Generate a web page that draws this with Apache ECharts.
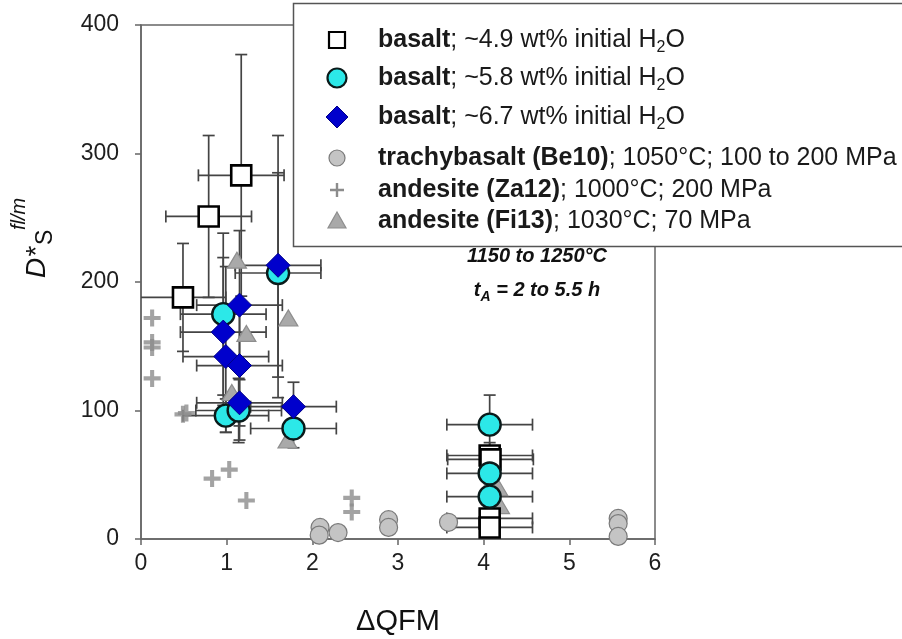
<!DOCTYPE html>
<html>
<head>
<meta charset="utf-8">
<script src="https://cdn.jsdelivr.net/npm/echarts@6/dist/echarts.min.js"></script>
<style>
  html, body { margin: 0; padding: 0; background: #fff; }
  #chart { width: 902px; height: 639px; }
</style>
</head>
<body>
<div id="chart"></div>
<script>
// Axis ticks
const xTicks = [0, 1, 2, 3, 4, 5, 6];
const yTicks = [0, 100, 200, 300, 400];

// basalt, ~4.9 wt% initial H2O (open squares)
const b49X   = [1.17, 0.79, 0.49, 4.07, 4.08, 4.07, 4.07];
const b49Y   = [283, 251, 188, 65, 62, 16, 9];
const b49YLo = [189, 188, 146, 55, 52, 11, 4];
const b49YHi = [377, 314, 230, 75, 72, 21, 14];
const b49XEr = [0.5, 0.5, 0.5, 0.5, 0.5, 0.5, 0.5];

// basalt, ~5.8 wt% initial H2O (cyan circles)
const b58X   = [1.60, 0.96, 0.99, 1.14, 1.78, 4.07, 4.07, 4.07];
const b58Y   = [207, 175, 96, 100, 86, 89, 51, 33];
const b58YLo = [110, 112, 83, 75, 71, 66, 43, 25];
const b58YHi = [314, 238, 109, 125, 102, 112, 59, 41];
const b58XEr = [0.5, 0.5, 0.5, 0.5, 0.5, 0.5, 0.5, 0.5];

// basalt, ~6.7 wt% initial H2O (blue diamonds)
const b67X   = [1.60, 1.15, 0.96, 0.99, 1.15, 1.15, 1.78];
const b67Y   = [213, 182, 161, 142, 135, 106, 103];
const b67YLo = [126, 124, 104, 83, 88, 77, 84];
const b67YHi = [285, 240, 219, 212, 182, 135, 122];
const b67XEr = [0.5, 0.5, 0.5, 0.5, 0.5, 0.5, 0.5];

// trachybasalt (Be10)
const be10X = [2.09, 2.08, 2.30, 2.89, 2.89, 3.59, 5.57, 5.57, 5.57];
const be10Y = [9, 3, 5, 15, 9, 13, 16, 12, 2];

// andesite (Za12)
const za12X = [0.13, 0.13, 0.13, 0.13, 0.49, 0.53, 0.83, 1.03, 1.23, 2.46, 2.46];
const za12Y = [172, 153, 149, 125, 97, 98, 47, 54, 30, 32, 21];

// andesite (Fi13)
const fi13X = [1.12, 1.23, 1.72, 1.06, 1.71, 4.17, 4.19];
const fi13Y = [217, 160, 172, 114, 77, 40, 26];

const FONT = '"Liberation Sans", Arial, Helvetica, sans-serif';
const PLUS = 'path://M3.8,0H6.2V3.8H10V6.2H6.2V10H3.8V6.2H0V3.8H3.8Z';
const DIAMOND = 'path://M5,0L10,5L5,10L0,5Z';

function pts(xs, ys) { return xs.map((x, i) => [x, ys[i]]); }
function errRows(xs, ys, lo, hi, xe) {
  return xs.map((x, i) => [x, ys[i], x - xe[i], x + xe[i], lo[i], hi[i]]);
}

// Error bars drawn with the axis scales
function errSeries(rows, color, width) {
  return {
    type: 'custom',
    data: rows,
    encode: { x: 0, y: 1 },
    clip: true,
    z: 2,
    silent: true,
    renderItem: function (params, api) {
      const c = api.coord([api.value(0), api.value(1)]);
      const l = api.coord([api.value(2), api.value(1)]);
      const r = api.coord([api.value(3), api.value(1)]);
      const lo = api.coord([api.value(0), api.value(4)]);
      const hi = api.coord([api.value(0), api.value(5)]);
      const cap = 6;
      const st = { stroke: color, lineWidth: width };
      const ln = (x1, y1, x2, y2) => ({ type: 'line', shape: { x1, y1, x2, y2 }, style: st });
      return {
        type: 'group',
        children: [
          ln(l[0], c[1], r[0], r[1]),
          ln(l[0], c[1] - cap, l[0], c[1] + cap),
          ln(r[0], c[1] - cap, r[0], c[1] + cap),
          ln(c[0], lo[1], c[0], hi[1]),
          ln(c[0] - cap, lo[1], c[0] + cap, lo[1]),
          ln(c[0] - cap, hi[1], c[0] + cap, hi[1])
        ]
      };
    }
  };
}

// Text measuring for the hand-set legend rows and labels
const mctx = document.createElement('canvas').getContext('2d');
function fontStr(p) {
  return (p.italic ? 'italic ' : '') + (p.bold ? 'bold ' : '') + p.size + 'px ' + FONT;
}
function measure(p) { mctx.font = fontStr(p); return mctx.measureText(p.t).width; }
function textRun(x, y, parts, color) {
  const out = [];
  let cx = x;
  parts.forEach(p => {
    out.push({
      type: 'text', x: cx, y: y + (p.dy || 0), z: 101,
      style: {
        text: p.t, fill: color || '#1a1a1a',
        font: fontStr(p), textAlign: 'left', textVerticalAlign: 'middle'
      }
    });
    cx += measure(p) + (p.gap || 0);
  });
  return out;
}

const LS = 25; // legend font size
const rowsY = [40, 78, 117, 158, 190, 221];
const symX = 337;
const txtX = 378;
function h2oRow(label) {
  return [
    { t: 'basalt', bold: true, size: LS },
    { t: '; ~' + label + ' wt% initial H', size: LS },
    { t: '2', size: 16, dy: 8 },
    { t: 'O', size: LS }
  ];
}
const legendRows = [
  h2oRow('4.9'), h2oRow('5.8'), h2oRow('6.7'),
  [{ t: 'trachybasalt (Be10)', bold: true, size: LS }, { t: '; 1050°C; 100 to 200 MPa', size: LS }],
  [{ t: 'andesite (Za12)', bold: true, size: LS }, { t: '; 1000°C; 200 MPa', size: LS }],
  [{ t: 'andesite (Fi13)', bold: true, size: LS }, { t: '; 1030°C; 70 MPa', size: LS }]
];

const graphics = [];
// legend frame
graphics.push({
  type: 'rect', z: 100, shape: { x: 293.5, y: 3.5, width: 640, height: 243 },
  style: { fill: '#fff', stroke: '#555', lineWidth: 1.5 }
});
// legend symbols
graphics.push({ type: 'rect', z: 101, shape: { x: symX - 8, y: rowsY[0] - 8, width: 16, height: 16 },
  style: { fill: '#fff', stroke: '#000', lineWidth: 2.2 } });
graphics.push({ type: 'circle', z: 101, shape: { cx: symX, cy: rowsY[1], r: 9.5 },
  style: { fill: '#2ce8e8', stroke: '#0a1a1a', lineWidth: 2.2 } });
graphics.push({ type: 'polygon', z: 101, shape: { points: [[symX, rowsY[2] - 11], [symX + 11, rowsY[2]], [symX, rowsY[2] + 11], [symX - 11, rowsY[2]]] },
  style: { fill: '#0000cc', stroke: '#000088', lineWidth: 1 } });
graphics.push({ type: 'circle', z: 101, shape: { cx: symX, cy: rowsY[3], r: 8 },
  style: { fill: '#c4c4c4', stroke: '#7a7a7a', lineWidth: 1.2 } });
graphics.push({ type: 'polygon', z: 101, shape: { points: [[symX - 1.2, rowsY[4] - 7], [symX + 1.2, rowsY[4] - 7], [symX + 1.2, rowsY[4] - 1.2], [symX + 7, rowsY[4] - 1.2], [symX + 7, rowsY[4] + 1.2], [symX + 1.2, rowsY[4] + 1.2], [symX + 1.2, rowsY[4] + 7], [symX - 1.2, rowsY[4] + 7], [symX - 1.2, rowsY[4] + 1.2], [symX - 7, rowsY[4] + 1.2], [symX - 7, rowsY[4] - 1.2], [symX - 1.2, rowsY[4] - 1.2]] },
  style: { fill: '#8c8c8c' } });
graphics.push({ type: 'polygon', z: 101, shape: { points: [[symX, rowsY[5] - 9], [symX + 9, rowsY[5] + 7], [symX - 9, rowsY[5] + 7]] },
  style: { fill: '#a9a9a9', stroke: '#8e8e8e', lineWidth: 1.2 } });
legendRows.forEach((parts, i) => { textRun(txtX, rowsY[i], parts).forEach(g => graphics.push(g)); });

// temperature / duration note
graphics.push({ type: 'text', z: 50, x: 537, y: 256,
  style: { text: '1150 to 1250°C', font: 'italic bold 20px ' + FONT, fill: '#111', textAlign: 'center', textVerticalAlign: 'middle' } });
(function () {
  const parts = [
    { t: 't', italic: true, bold: true, size: 20 },
    { t: 'A', italic: true, bold: true, size: 14, dy: 7 },
    { t: ' = 2 to 5.5 h', italic: true, bold: true, size: 20 }
  ];
  const w = parts.reduce((s, p) => s + measure(p), 0);
  textRun(537 - w / 2, 290, parts, '#111').forEach(g => { g.z = 50; graphics.push(g); });
})();

// y-axis title, rotated to read upward
graphics.push({
  type: 'group', x: 37, y: 278, rotation: Math.PI / 2, z: 50,
  children: [
    { type: 'text', x: 0, y: 0, style: { text: 'D*', font: 'italic 28px ' + FONT, fill: '#111', textAlign: 'left', textVerticalAlign: 'middle' } },
    { type: 'text', x: 33, y: 9, style: { text: 'S', font: '23px ' + FONT, fill: '#111', textAlign: 'left', textVerticalAlign: 'middle' } },
    { type: 'text', x: 48, y: -18, style: { text: 'fl/m', font: 'italic 20px ' + FONT, fill: '#111', textAlign: 'left', textVerticalAlign: 'middle' } }
  ]
});

const option = {
  backgroundColor: '#fff',
  animation: false,
  textStyle: { fontFamily: FONT },
  // plot frame drawn by the grid border
  grid: {
    left: 141, top: 25, width: 514, height: 514, outerBoundsMode: 'none', containLabel: false,
    show: true, borderColor: '#666', borderWidth: 1.5, backgroundColor: 'transparent'
  },
  xAxis: {
    type: 'value', min: xTicks[0], max: xTicks[xTicks.length - 1], interval: 1,
    name: 'ΔQFM', nameLocation: 'middle', nameGap: 68,
    nameTextStyle: { fontSize: 29, color: '#111', fontFamily: FONT },
    axisLine: { show: true, lineStyle: { color: '#666', width: 1.5 } },
    axisTick: { show: true, inside: false, length: 6, lineStyle: { color: '#666', width: 1.5 } },
    axisLabel: { fontSize: 23, color: '#1e1e1e', margin: 13, fontFamily: FONT },
    splitLine: { show: false }
  },
  yAxis: {
    type: 'value', min: yTicks[0], max: yTicks[yTicks.length - 1], interval: 100,
    axisLine: { show: true, lineStyle: { color: '#666', width: 1.5 } },
    axisTick: { show: true, inside: false, length: 6, lineStyle: { color: '#666', width: 1.5 } },
    axisLabel: { fontSize: 23, color: '#1e1e1e', margin: 22, fontFamily: FONT },
    splitLine: { show: false }
  },
  graphic: graphics,
  series: [
    errSeries(errRows(b49X, b49Y, b49YLo, b49YHi, b49XEr), '#444', 1.7),
    errSeries(errRows(b58X, b58Y, b58YLo, b58YHi, b58XEr), '#444', 1.7),
    errSeries(errRows(b67X, b67Y, b67YLo, b67YHi, b67XEr), '#444', 1.7),
    {
      name: 'andesite (Za12)', type: 'scatter', data: pts(za12X, za12Y), z: 3,
      symbol: PLUS, symbolSize: 17, itemStyle: { color: '#8c8c8c' }
    },
    {
      name: 'trachybasalt (Be10)', type: 'scatter', data: pts(be10X, be10Y), z: 3,
      symbol: 'circle', symbolSize: 18, itemStyle: { color: '#c4c4c4', borderColor: '#7a7a7a', borderWidth: 1.2, opacity: 1 }
    },
    {
      name: 'andesite (Fi13)', type: 'scatter', data: pts(fi13X, fi13Y), z: 3,
      symbol: 'triangle', symbolSize: [19, 16], itemStyle: { color: '#a9a9a9', borderColor: '#8e8e8e', borderWidth: 1.2, opacity: 1 }
    },
    {
      name: 'basalt 4.9', type: 'scatter', data: pts(b49X, b49Y), z: 4,
      symbol: 'rect', symbolSize: 20, itemStyle: { color: '#fff', borderColor: '#000', borderWidth: 2.6, opacity: 1 }
    },
    {
      name: 'basalt 5.8', type: 'scatter', data: pts(b58X, b58Y), z: 4,
      symbol: 'circle', symbolSize: 22, itemStyle: { color: '#2ce8e8', borderColor: '#0a1a1a', borderWidth: 2.4, opacity: 1 }
    },
    {
      name: 'basalt 6.7', type: 'scatter', data: pts(b67X, b67Y), z: 5,
      symbol: DIAMOND, symbolSize: 24, itemStyle: { color: '#0000cc', borderColor: '#000088', borderWidth: 1, opacity: 1 }
    }
  ]
};

const chart = echarts.init(document.getElementById('chart'), null, { renderer: 'canvas' });
chart.setOption(option);
</script>
</body>
</html>
